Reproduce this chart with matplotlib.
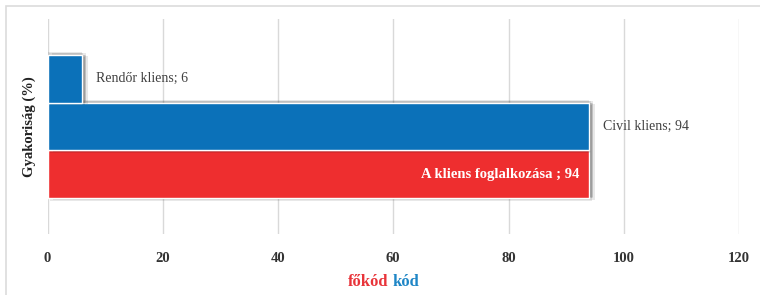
import matplotlib
matplotlib.use("Agg")
import matplotlib.pyplot as plt
import matplotlib.patheffects as pe
from matplotlib.patches import Rectangle

# adatok (alulrol felfele)
labels = ["A kliens foglalkozása ; 94", "Civil kliens; 94", "Rendőr kliens; 6"]
values = [94, 94, 6]
colors = ["#EE2E2F", "#0B71B9", "#0B71B9"]
xticks = [0, 20, 40, 60, 80, 100, 120]

plt.rcParams["font.family"] = ["Liberation Serif", "DejaVu Serif"]

fig = plt.figure(figsize=(7.6, 2.95), dpi=100)
fig.patch.set_facecolor("white")

# keret
fig.patches.append(Rectangle((6/760, -0.05), 1.0, 1 - 6/295 + 0.05, transform=fig.transFigure,
                             fill=False, edgecolor="#dcdcdc", linewidth=1.2))

ax = fig.add_axes([47.5/760, 1 - 234/295, (739 - 47.5)/760, (234 - 19)/295])
pos = list(range(len(values)))
# elmosott arnyek, tobb retegbol
shadow = [pe.SimplePatchShadow(offset=(dx, dy), shadow_rgbFace="black", alpha=0.09)
          for dx, dy in [(0, 2), (3, 0), (4, -1), (2, -2), (1, 1), (3, 1), (2, 0)]]
shadow.append(pe.Normal())
bars = ax.barh(pos, values, height=1.0, color=colors, edgecolor="white", linewidth=1, zorder=3)
for b in bars:
    b.set_path_effects(shadow)

# adatcimkek
ax.text(values[0] - 1.7, pos[0], labels[0], ha="right", va="center", color="white",
        fontsize=10.5, fontweight="bold", zorder=5)
for i in (1, 2):
    ax.annotate(labels[i], (values[i], pos[i]), xytext=(10, 0), textcoords="offset points",
                ha="left", va="center", color="#404040", fontsize=10, zorder=5)

ax.set_xlim(0, 120)
ax.set_ylim(-1.24, 3.24)
ax.set_xticks(xticks)
ax.set_yticks([])
ax.grid(axis="x", color="#d9d9d9", linewidth=1, zorder=0)
for s in ax.spines.values():
    s.set_visible(False)
ax.tick_params(axis="x", length=0, pad=13, labelsize=10.5, labelcolor="#333333")
for t in ax.get_xticklabels():
    t.set_fontweight("bold")

ax.set_ylabel("Gyakoriság (%)", fontsize=10.5, fontweight="bold", color="#222222", labelpad=8)

# ketszinu x cimke
fig.text(388/760, 1 - 282/295, "főkód", ha="right", va="center", color="#E8343A",
         fontsize=12, fontweight="bold")
fig.text(393/760, 1 - 282/295, "kód", ha="left", va="center", color="#1F86C6",
         fontsize=12, fontweight="bold")

fig.savefig("out.png", dpi=100)
